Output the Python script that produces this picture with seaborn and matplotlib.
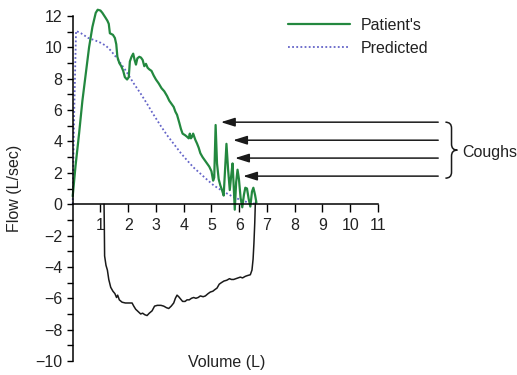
import matplotlib
matplotlib.use("Agg")
import matplotlib.pyplot as plt
import seaborn as sns
import pandas as pd
from matplotlib.path import Path
from matplotlib.patches import PathPatch

# ---------------- data ----------------
pat_vol = [0, 0.1, 0.23, 0.35, 0.47, 0.59, 0.71, 0.83, 0.9, 1.0, 1.07, 1.18, 1.25, 1.3, 1.34,
           1.45, 1.52, 1.57, 1.61, 1.68, 1.75, 1.82, 1.88, 1.96, 2.02, 2.06, 2.12, 2.18, 2.23,
           2.28, 2.33, 2.4, 2.46, 2.52, 2.58, 2.64, 2.7, 2.76, 2.84, 2.92, 3.0, 3.1, 3.2, 3.3,
           3.4, 3.48, 3.56, 3.64, 3.7, 3.76, 3.84, 3.9, 3.96, 4.05, 4.12, 4.18, 4.22, 4.26, 4.3,
           4.34, 4.38, 4.42, 4.48, 4.54, 4.6, 4.68, 4.76, 4.84, 4.92, 5.0, 5.06, 5.1, 5.15, 5.2,
           5.26, 5.32, 5.38, 5.44, 5.49, 5.54, 5.6, 5.66, 5.71, 5.76, 5.8, 5.84, 5.89, 5.94, 5.99,
           6.05, 6.11, 6.17, 6.22, 6.28, 6.34, 6.4, 6.46, 6.51, 6.57, 6.62]
pat_flow = [0.5, 2.4, 4.5, 6.6, 8.3, 10.0, 11.3, 12.2, 12.4, 12.35, 12.2, 11.9, 11.7, 11.5, 10.9,
            10.8, 10.6, 10.2, 9.4, 9.0, 8.8, 8.5, 8.1, 7.95, 8.1, 9.1, 9.4, 9.6, 9.2,
            8.9, 9.3, 9.4, 9.35, 9.2, 8.8, 8.95, 8.7, 8.6, 8.5, 8.2, 7.95, 7.7, 7.4, 7.2,
            6.9, 6.6, 6.4, 6.2, 5.9, 5.7, 5.2, 4.8, 4.5, 4.4, 4.3, 4.2, 4.5, 4.2, 4.3,
            4.5, 4.3, 4.1, 3.87, 3.6, 3.25, 3.0, 2.8, 2.6, 2.4, 2.1, 1.5, 1.7, 5.05, 2.6,
            1.6, 1.2, 0.9, 0.55, 2.2, 3.85, 2.2, 0.9, 1.8, 2.6, 1.2, -0.35, 1.4, 2.2, 1.6,
            0.4, -0.2, 0.6, 1.05, 1.0, 0.35, -0.15, 0.8, 1.05, 0.6, 0.1]

pred_vol = [0, 0.05, 0.12, 0.3, 0.56, 0.8, 1.0, 1.2, 1.37, 1.6, 1.9, 2.2, 2.45, 2.68, 2.9, 3.17,
            3.4, 3.64, 3.9, 4.12, 4.35, 4.6, 4.85, 5.08, 5.3, 5.56, 5.8, 6.04, 6.3, 6.55]
pred_flow = [0, 5.5, 11.05, 10.9, 10.6, 10.45, 10.3, 10.1, 9.8, 9.3, 8.55, 7.7, 7.05, 6.4, 5.75, 5.0,
             4.4, 3.85, 3.25, 2.8, 2.35, 1.95, 1.55, 1.2, 0.95, 0.68, 0.45, 0.28, 0.12, 0.03]

insp_vol = [1.13, 1.14, 1.15, 1.2, 1.25, 1.3, 1.37, 1.45, 1.52, 1.58, 1.62, 1.68, 1.78, 1.9, 2.05,
            2.14, 2.2, 2.27, 2.36, 2.45, 2.52, 2.6, 2.68, 2.76, 2.86, 2.95, 3.05, 3.18, 3.28, 3.38,
            3.46, 3.55, 3.64, 3.7, 3.76, 3.82, 3.89, 3.96, 4.05, 4.12, 4.2, 4.28, 4.36, 4.44, 4.52,
            4.6, 4.7, 4.78, 4.88, 4.96, 5.05, 5.12, 5.2, 5.28, 5.36, 5.45, 5.55, 5.65, 5.72, 5.8,
            5.88, 5.96, 6.04, 6.12, 6.22, 6.3, 6.4, 6.46, 6.5, 6.53, 6.56, 6.58, 6.6]
insp_flow = [0.0, -1.5, -3.3, -3.9, -4.2, -4.8, -5.3, -5.55, -5.7, -5.95, -5.8, -6.1, -6.25, -6.3, -6.3,
             -6.3, -6.5, -6.7, -6.85, -7.0, -6.95, -7.05, -7.1, -6.95, -6.8, -6.5, -6.45, -6.45, -6.5, -6.6,
             -6.65, -6.5, -6.3, -6.0, -5.8, -5.9, -6.05, -6.2, -6.2, -6.1, -6.1, -6.0, -5.95, -6.0, -5.95,
             -5.85, -5.9, -5.85, -5.7, -5.6, -5.55, -5.45, -5.35, -5.1, -5.0, -4.9, -4.85, -4.75, -4.8, -4.8,
             -4.75, -4.7, -4.65, -4.7, -4.6, -4.55, -4.5, -4.2, -3.5, -2.5, -1.2, 0.0, 0.2]

x_ticks = list(range(1, 12))
y_ticks = list(range(-10, 13))
series_labels = ["Patient's", "Predicted"]
cough_label = "Coughs"
x_label = "Volume (L)"
y_label = "Flow (L/sec)"

# cough arrows: (tip volume, flow level)
cough_tip_vol = [5.34, 5.78, 5.85, 6.14]
cough_flow = [5.23, 4.08, 2.94, 1.79]
arrow_tail_vol = 13.17

# ---------------- style ----------------
sns.set_theme(style="ticks")
plt.rcParams["font.family"] = ["Liberation Sans", "DejaVu Sans"]

GREEN = "#23883f"
PRED = "#6464c8"
BLACK = "#1a1a1a"

fig = plt.figure(figsize=(5.17, 3.75), dpi=100)
ax = fig.add_axes([0.1406, 0.0373, 0.5905, 0.92])

df_pat = pd.DataFrame({"vol": pat_vol, "flow": pat_flow})
df_pred = pd.DataFrame({"vol": pred_vol, "flow": pred_flow})
df_insp = pd.DataFrame({"vol": insp_vol, "flow": insp_flow})

sns.lineplot(data=df_insp, x="vol", y="flow", ax=ax, color=BLACK, lw=1.1,
             sort=False, estimator=None)
sns.lineplot(data=df_pred, x="vol", y="flow", ax=ax, color=PRED, lw=1.3,
             linestyle=(0, (1, 1.3)), sort=False, estimator=None, label=series_labels[1])
sns.lineplot(data=df_pat, x="vol", y="flow", ax=ax, color=GREEN, lw=1.6,
             sort=False, estimator=None, label=series_labels[0])
for ln in ax.lines:
    ln.set_clip_on(False)

ax.set_xlim(0, 11)
ax.set_ylim(-10, 12)
ax.spines[["top", "right"]].set_visible(False)
ax.spines["bottom"].set_position(("data", 0))
for s in ("bottom", "left"):
    ax.spines[s].set_color("black")
    ax.spines[s].set_linewidth(1.1)

ax.set_xticks(x_ticks)
ax.set_xticklabels([str(v) for v in x_ticks])
ax.set_yticks(y_ticks)
ax.set_yticklabels([str(v).replace("-", "\u2212") if v % 2 == 0 else "" for v in y_ticks])
ax.tick_params(axis="x", direction="out", length=6, width=1.0, pad=4, labelsize=11.5,
               colors="black", labelcolor="#222222")
ax.tick_params(axis="y", direction="out", length=4.5, width=1.0, pad=3, labelsize=11.5,
               colors="black", labelcolor="#222222")
ax.set_xlabel("")
ax.set_ylabel("")

fig.text(15 / 517, 1 - 188.5 / 375, y_label, rotation=90, ha="center", va="center",
         fontsize=11.5, color="#222222")
fig.text(227 / 517, 1 - 363 / 375, x_label, ha="center", va="center",
         fontsize=11.5, color="#222222")

# legend
h, l = ax.get_legend_handles_labels()
order = [l.index(series_labels[0]), l.index(series_labels[1])]
leg = ax.legend([h[i] for i in order], [l[i] for i in order], loc="center left",
                bbox_to_anchor=(0.705, 0.94), frameon=False, borderpad=0, borderaxespad=0,
                handlelength=3.9, handletextpad=0.65, labelspacing=0.5, fontsize=11.5)
for t in leg.get_texts():
    t.set_color("#222222")

# cough arrows
for tv, fl in zip(cough_tip_vol, cough_flow):
    ax.annotate("", xy=(tv, fl), xytext=(arrow_tail_vol, fl), annotation_clip=False,
                arrowprops=dict(arrowstyle="-|>,head_length=0.7,head_width=0.22",
                                color=BLACK, lw=1.1, shrinkA=0, shrinkB=0))

# brace
bx0, bx1, bx2 = 13.43, 13.65, 13.86
by_top, by_mid, by_bot = 5.23, 3.45, 1.66
dy = 0.38
verts = [(bx0, by_top), (bx1, by_top), (bx1, by_top - dy),
         (bx1, by_mid + dy),
         (bx1, by_mid), (bx2, by_mid),
         (bx1, by_mid), (bx1, by_mid - dy),
         (bx1, by_bot + dy),
         (bx1, by_bot), (bx0, by_bot)]
codes = [Path.MOVETO, Path.CURVE3, Path.CURVE3,
         Path.LINETO,
         Path.CURVE3, Path.CURVE3,
         Path.CURVE3, Path.CURVE3,
         Path.LINETO,
         Path.CURVE3, Path.CURVE3]
ax.add_patch(PathPatch(Path(verts, codes), fill=False, edgecolor=BLACK, lw=1.1,
                       clip_on=False))
ax.text(14.05, 3.3, cough_label, ha="left", va="center", fontsize=11.5, color="#222222",
        clip_on=False)

fig.savefig("out.png", dpi=100)
